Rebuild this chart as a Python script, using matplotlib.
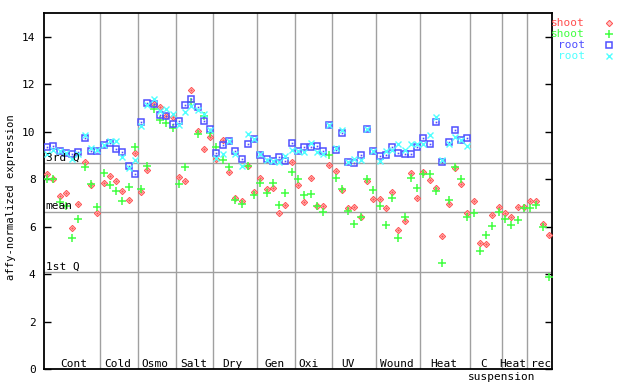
import numpy as np
import matplotlib
matplotlib.use('Agg')
import matplotlib.pyplot as plt
from matplotlib.lines import Line2D

plt.rcParams['font.family'] = ['DejaVu Sans Mono']

# expression values, one slot per sample (x index 0..80)
shoot1 = [8.23, 8.02, 7.30, 7.41, 5.94, 6.95, 8.72, 7.75, 6.57,
          7.86, 8.14, 7.93, 7.51, 7.14, 9.10,
          7.46, 8.38, 11.18, 11.04, 10.66, 10.64,
          8.08, 7.93, 11.77, 10.03, 9.27, 9.78,
          8.86, 9.65, 8.30, 7.20, 7.09, 8.57, 7.46,
          8.04, 7.59, 7.65, 6.57, 6.92, 8.72,
          7.76, 7.03, 8.04, 6.88, 6.88, 8.60,
          8.34, 7.53, 6.79, 6.83, 6.42, 7.93, 7.17,
          7.17, 6.80, 7.45, 5.85, 6.23, 8.25, 7.20,
          8.30, 7.96, 7.63, 5.61, 6.95, 8.46, 7.79, 6.58,
          7.07, 5.31, 5.27, 6.49, 6.82,
          6.57, 6.40, 6.82, 6.82,
          7.07, 7.07, 6.12, 5.64]
shoot2 = [8.00, 8.03, 7.05, 6.88, 5.51, 6.31, 8.51, 7.79, 6.82,
          8.26, 7.76, 7.51, 7.09, 7.67, 9.38,
          7.58, 8.57, 10.95, 10.49, 10.36, 10.15,
          7.80, 8.51, 11.25, 9.90, 10.65, 9.97,
          9.36, 8.82, 8.51, 7.12, 6.96, 8.58, 7.34,
          7.83, 7.41, 7.83, 6.92, 7.41, 8.30,
          8.01, 7.35, 7.37, 6.88, 6.61, 9.03,
          8.04, 7.59, 6.65, 6.11, 6.42, 8.01, 7.55,
          6.89, 6.06, 7.20, 5.51, 6.40, 8.05, 7.62,
          8.22, 8.22, 7.49, 4.46, 7.13, 8.52, 8.00, 6.42,
          6.57, 4.97, 5.64, 6.03, 6.61,
          6.31, 6.06, 6.28, 6.78,
          6.79, 6.90, 5.98, 3.87]
root1 = [9.36, 9.41, 9.21, 9.11, 9.07, 9.15, 9.73, 9.20, 9.20,
         9.45, 9.52, 9.27, 9.14, 8.54, 8.23,
         10.40, 11.21, 11.18, 10.70, 10.66, 10.32,
         10.45, 11.12, 11.37, 11.04, 10.45, 10.11,
         9.10, 9.43, 9.63, 9.19, 8.84, 9.48, 9.69,
         9.04, 8.84, 8.77, 8.93, 8.77, 9.52,
         9.21, 9.35, 9.35, 9.41, 9.20, 10.29,
         9.24, 9.94, 8.75, 8.68, 9.01, 10.14, 9.21,
         8.98, 9.01, 9.38, 9.10, 9.06, 9.05, 9.36,
         9.73, 9.48, 10.40, 8.73, 9.56, 10.07, 9.67, 9.73]
root2 = [9.05, 9.24, 9.20, 9.10, 8.85, 9.05, 9.87, 9.31, 9.22,
         9.45, 9.63, 9.63, 8.96, 8.47, 8.82,
         10.24, 11.14, 11.39, 10.90, 10.95, 10.76,
         10.28, 10.85, 11.10, 10.92, 10.76, 10.08,
         8.90, 9.07, 9.63, 9.05, 8.56, 9.91, 9.69,
         9.07, 8.82, 8.77, 8.75, 8.98, 9.24,
         9.20, 9.14, 9.55, 9.14, 9.05, 10.28,
         9.30, 10.08, 8.75, 8.84, 8.82, 10.14, 9.21,
         8.79, 9.20, 9.24, 9.48, 9.24, 9.48, 9.48,
         9.48, 9.86, 10.64, 8.82, 9.48, 9.78, 9.66, 9.40]

# group labels and sizes
groups = ['Cont', 'Cold', 'Osmo', 'Salt', 'Dry', 'Gen', 'Oxi', 'UV',
          'Wound', 'Heat', 'C', 'Heat', 'rec']
group_sizes = [9, 6, 6, 6, 7, 6, 6, 7, 7, 8, 5, 4, 4]
label_x = [4.2, 11.3, 17.2, 23.3, 29.6, 36.2, 41.6, 48.0, 55.8, 63.3, 69.6, 74.3, 78.8]

q3, mean, q1 = 8.68, 6.62, 4.08

fig = plt.figure(figsize=(6.4, 3.84), dpi=100)
ax = fig.add_axes([44 / 640, 1 - 369 / 384, 508 / 640, 355.7 / 384])

grey = '#a0a0a0'
for q in (q3, mean, q1):
    ax.axhline(q, color=grey, lw=1, zorder=1)
bounds = np.cumsum(group_sizes)[:-1] - 0.5
for b in bounds:
    ax.axvline(b, color=grey, lw=1, zorder=1)

red, green, blue, cyan = '#ff5050', '#40ff40', '#5050ff', '#50ffff'
x_shoot = np.arange(len(shoot1))
x_root = np.arange(len(root1))

ax.plot(x_shoot, shoot1, ls='none', marker='D', ms=3.2, mfc='#ffc4c4', mec=red, mew=0.7, zorder=3)
ax.plot(x_shoot, shoot1, ls='none', marker='.', ms=1.3, color=red, zorder=3)
ax.plot(x_shoot, shoot2, ls='none', marker='+', ms=6, mew=1.1, color=green, zorder=3)
ax.plot(x_root, root1, ls='none', marker='s', ms=4.3, mfc='none', mec=blue, mew=1.1, zorder=3)
ax.plot(x_root, root1, ls='none', marker='s', ms=1.2, color=blue, mew=0, zorder=3)
ax.plot(x_root, root2, ls='none', marker='x', ms=4.3, mew=1.0, color=cyan, zorder=3)

ax.set_xlim(-0.5, len(shoot1) - 0.5)
ax.set_ylim(0, 15)
ax.set_xticks([])
ax.set_yticks(np.arange(0, 15, 2))
ax.tick_params(axis='y', direction='in', length=5, width=1, right=True,
               labelsize=8, pad=6)
for s in ax.spines.values():
    s.set_linewidth(1.3)

ax.set_ylabel('affy-normalized expression', fontsize=7.6)
ax.yaxis.set_label_coords(-0.055, 0.484)

for q, name in ((q3, '3rd Q'), (mean, 'mean'), (q1, '1st Q')):
    ax.text(0.003, q + 0.03, name, transform=ax.get_yaxis_transform(),
            fontsize=8, va='bottom', ha='left', zorder=4)

for lx, g in zip(label_x, groups):
    ax.text(lx, 0.2, g, fontsize=8, ha='center', va='center')
ax.text(72.5, -0.33, 'suspension', fontsize=8, ha='center', va='center', clip_on=False)

# legend outside on the right
leg = [('shoot', red, dict(marker='D', ms=3.2, mfc='#ffc4c4', mec=red, mew=0.7)),
       ('shoot', green, dict(marker='+', ms=6, mew=1.1, color=green)),
       ('root', blue, dict(marker='s', ms=4.3, mfc='none', mec=blue, mew=1.1)),
       ('root', cyan, dict(marker='x', ms=4.3, mew=1.0, color=cyan))]
for k, (name, col, mk) in enumerate(leg):
    yy = 1 - (23.3 + 11 * k) / 384
    fig.text(585 / 640, yy, name, color=col, fontsize=8, ha='right', va='center')
    fig.add_artist(Line2D([609 / 640], [yy], transform=fig.transFigure, ls='none', **mk))

fig.savefig('out.png', dpi=100)
